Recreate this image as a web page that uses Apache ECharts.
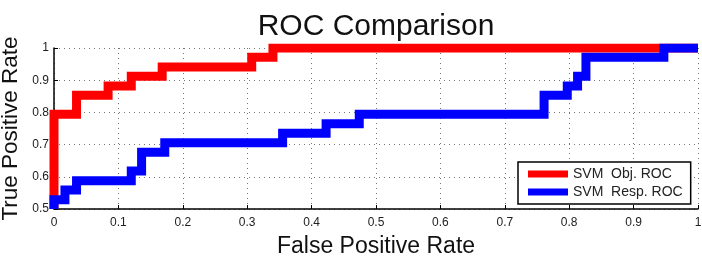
<!DOCTYPE html>
<html>
<head>
<meta charset="utf-8">
<script src="https://cdn.jsdelivr.net/npm/echarts@6/dist/echarts.min.js"></script>
<style>
  html, body { margin: 0; padding: 0; background: #fff; }
  #chart { width: 702px; height: 264px; }
</style>
</head>
<body>
<div id="chart"></div>
<script>
// ROC points (false positive rate, true positive rate)
const objFpr = [0, 0, 0.035, 0.035, 0.084, 0.084, 0.12, 0.12, 0.168, 0.168, 0.307, 0.307, 0.34, 0.34, 1]
const objTpr = [0.5, 0.794, 0.794, 0.853, 0.853, 0.882, 0.882, 0.912, 0.912, 0.941, 0.941, 0.971, 0.971, 1, 1]
const respFpr = [0, 0, 0.017, 0.017, 0.035, 0.035, 0.12, 0.12, 0.136, 0.136, 0.172, 0.172, 0.355, 0.355,
  0.4225, 0.4225, 0.474, 0.474, 0.761, 0.761, 0.797, 0.797, 0.813, 0.813, 0.826, 0.826, 0.947, 0.947, 1]
const respTpr = [0.5, 0.529, 0.529, 0.559, 0.559, 0.588, 0.588, 0.618, 0.618, 0.676, 0.676, 0.706, 0.706, 0.735,
  0.735, 0.765, 0.765, 0.794, 0.794, 0.853, 0.853, 0.882, 0.882, 0.912, 0.912, 0.971, 0.971, 1, 1]
const seriesNames = ['SVM  Obj. ROC', 'SVM  Resp. ROC']
const seriesColors = ['#ff0000', '#0000ff']

const zip = (xs, ys) => xs.map((x, i) => [x, ys[i]])
const font = '"Liberation Sans", Arial, Helvetica, sans-serif'

const axisCommon = {
  type: 'value',
  interval: 0.1,
  axisLine: { show: true, lineStyle: { color: '#000', width: 1.5 } },
  axisTick: { show: true, inside: true, length: 4, lineStyle: { color: '#000' } },
  axisLabel: { fontSize: 12, color: '#222', fontFamily: font },
  splitLine: { show: true, lineStyle: { color: '#777', type: [1, 4], width: 1 } },
  nameLocation: 'middle',
  nameMoveOverlap: false,
  nameTextStyle: { fontSize: 23, color: '#111', fontFamily: font }
}

const option = {
  animation: false,
  title: {
    text: 'ROC Comparison',
    left: 371,
    textAlign: 'center',
    top: 7,
    textStyle: { fontSize: 30, fontWeight: 'normal', color: '#111', fontFamily: font }
  },
  grid: { left: 54, right: 4, top: 48, bottom: 55, outerBoundsMode: 'none' },
  xAxis: Object.assign({}, axisCommon, {
    min: 0, max: 1,
    name: 'False Positive Rate',
    nameGap: 26,
    axisLabel: Object.assign({}, axisCommon.axisLabel, { margin: 8 })
  }),
  yAxis: Object.assign({}, axisCommon, {
    min: 0.5, max: 1,
    name: 'True Positive Rate',
    nameGap: 32,
    nameTextStyle: { fontSize: 22.5, color: '#111', fontFamily: font },
    axisLabel: Object.assign({}, axisCommon.axisLabel, { margin: 5 })
  }),
  legend: {
    orient: 'vertical',
    left: 518,
    top: 162,
    padding: [5, 8, 5, 10],
    itemGap: 4,
    itemWidth: 40,
    itemHeight: 7,
    icon: 'rect',
    backgroundColor: '#fff',
    borderColor: '#000',
    borderWidth: 1.5,
    borderRadius: 0,
    textStyle: { fontSize: 14, color: '#222', fontFamily: font },
    data: seriesNames
  },
  series: [
    {
      name: seriesNames[0],
      type: 'line',
      showSymbol: false,
      color: seriesColors[0],
      lineStyle: { width: 9, color: seriesColors[0], join: 'miter' },
      data: zip(objFpr, objTpr)
    },
    {
      name: seriesNames[1],
      type: 'line',
      showSymbol: false,
      color: seriesColors[1],
      lineStyle: { width: 9, color: seriesColors[1], join: 'miter' },
      data: zip(respFpr, respTpr)
    }
  ]
}

const chart = echarts.init(document.getElementById('chart'))
chart.setOption(option)
</script>
</body>
</html>
